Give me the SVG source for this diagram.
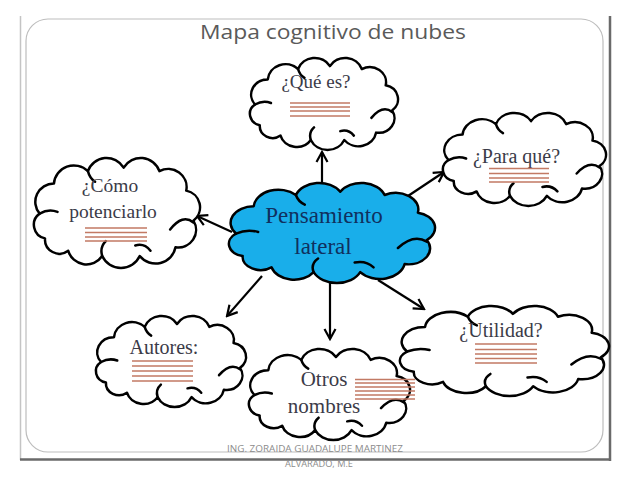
<svg xmlns="http://www.w3.org/2000/svg" xmlns:xlink="http://www.w3.org/1999/xlink" width="638" height="479" viewBox="0 0 638 479">
<style>
.cloud{fill:#ffffff;stroke:#000;stroke-width:2.5;stroke-linejoin:round}
.blue{fill:#19aeea}
.hook{fill:none;stroke:#000;stroke-width:2.5;stroke-linecap:round}
.lbl{font-family:"Liberation Serif",serif;fill:#3b3b48;text-anchor:middle}
.main{font-family:"Liberation Serif",serif;fill:#10305e;text-anchor:middle;font-size:23px}
.ul{fill:none;stroke:#c27a64;stroke-width:1.3}
.conn{fill:none;stroke:#000;stroke-width:2.2}
</style>
<defs>
<path id="cloudShape" vector-effect="non-scaling-stroke" d="M 14 62 A 20.7 20.7 0 0 1 30 28 A 22.3 22.3 0 0 1 68 14 A 22.1 22.1 0 0 1 108 10 A 22.1 22.1 0 0 1 148 14 A 20.5 20.5 0 0 1 178 36 A 19.2 19.2 0 0 1 186 70 A 19.8 19.8 0 0 1 166 100 A 22.7 22.7 0 0 1 126 110 A 23.1 23.1 0 0 1 84 110 A 21.2 21.2 0 0 1 46 104 A 16.2 16.2 0 0 1 20 90 A 15.7 15.7 0 0 1 14 62 Z"/>
<path id="cloudHooks" vector-effect="non-scaling-stroke" d="M 14 62 Q 24 56 34 60 M 68 14 Q 70 22 76 26 M 160 80 Q 174 62 186 72 M 84 110 Q 81 100 88 93 M 138 104 Q 131 95 121 98"/>
<marker id="arr" markerUnits="userSpaceOnUse" markerWidth="14" markerHeight="14" refX="0" refY="0" viewBox="-12 -7 14 14" orient="auto">
<path d="M -10 -5.5 L 0 0 L -10 5.5" fill="none" stroke="#000" stroke-width="2.2"/>
</marker>
</defs>
<rect width="638" height="479" fill="#ffffff"/>
<g id="frame">
<line x1="20.5" y1="16" x2="20.5" y2="460" stroke="#c4c4c4" stroke-width="1.5"/>
<line x1="610" y1="16" x2="610" y2="461" stroke="#6a6a6a" stroke-width="2.5"/>
<line x1="20" y1="459.5" x2="611" y2="459.5" stroke="#6a6a6a" stroke-width="2.5"/>
<rect x="26" y="19" width="577" height="433" rx="22" ry="22" fill="none" stroke="#bdbdbd" stroke-width="1.2"/>
</g>
<text id="title" x="333" y="39" font-family="'Open Sans','Noto Sans',sans-serif" font-size="20" fill="#5a5a5a" text-anchor="middle" textLength="266" lengthAdjust="spacingAndGlyphs">Mapa cognitivo de nubes</text>
<g id="connectors">
<line class="conn" x1="322" y1="185" x2="322" y2="152" marker-end="url(#arr)"/>
<line class="conn" x1="408" y1="196" x2="444" y2="172" marker-end="url(#arr)"/>
<line class="conn" x1="232" y1="232" x2="197" y2="216" marker-end="url(#arr)"/>
<line class="conn" x1="262" y1="276" x2="227" y2="316" marker-end="url(#arr)"/>
<line class="conn" x1="330" y1="283" x2="330" y2="339" marker-end="url(#arr)"/>
<line class="conn" x1="378" y1="280" x2="424" y2="309" marker-end="url(#arr)"/>
</g>
<g id="n-utilidad">
<g transform="translate(391.33 306.65) scale(1.1255 0.7235)"><use href="#cloudShape" class="cloud"/><use href="#cloudHooks" class="hook"/></g>
<text class="lbl" x="501" y="337" font-size="20">¿Utilidad?</text>
<path class="ul" d="M475 344H537M475 349.5H537M475 354H537M475 358.5H537M475 363H537"/>
</g>
<g id="n-otros">
<g transform="translate(242.32 349.66) scale(0.867 0.7315)"><use href="#cloudShape" class="cloud"/><use href="#cloudHooks" class="hook"/></g>
<text class="lbl" x="324" y="386" font-size="21">Otros</text>
<text class="lbl" x="324" y="413" font-size="21">nombres</text>
<path class="ul" d="M355 379.5H415M355 383H415M355 387H415M355 391H415M355 395H415M355 399H415"/>
</g>
<g id="n-quees">
<g transform="translate(243.86 58.67) scale(0.797 0.7395)"><use href="#cloudShape" class="cloud"/><use href="#cloudHooks" class="hook"/></g>
<text class="lbl" x="316" y="88" font-size="19">¿Qué es?</text>
<path class="ul" d="M290 103H350M290 107H350M290 111H350M290 116H350"/>
</g>
<g id="n-paraque">
<g transform="translate(436.24 113.67) scale(0.8778 0.7476)"><use href="#cloudShape" class="cloud"/><use href="#cloudHooks" class="hook"/></g>
<text class="lbl" x="516.5" y="163" font-size="20">¿Para qué?</text>
<path class="ul" d="M489 168.5H549M489 173.5H549M489 178H549M489 182H549"/>
</g>
<g id="n-como">
<g transform="translate(27.12 158.8) scale(0.8939 0.8842)"><use href="#cloudShape" class="cloud"/><use href="#cloudHooks" class="hook"/></g>
<text class="lbl" x="110" y="192" font-size="19.5">¿Cómo</text>
<text class="lbl" x="113" y="218" font-size="19.5">potenciarlo</text>
<path class="ul" d="M85 228H147M85 232.5H147M85 237H147M85 241H147"/>
</g>
<g id="n-autores">
<g transform="translate(89.78 316.66) scale(0.8078 0.7315)"><use href="#cloudShape" class="cloud"/><use href="#cloudHooks" class="hook"/></g>
<text class="lbl" x="164" y="354" font-size="20">Autores:</text>
<path class="ul" d="M132 361H193M132 366H193M132 371H193M132 376H193M132 381H193" stroke="#c46a4c" stroke-width="1.8"/>
</g>
<g id="n-pensamiento">
<g transform="translate(220.46 183.72) scale(1.1093 0.8039)"><use href="#cloudShape" class="cloud blue"/><use href="#cloudHooks" class="hook"/></g>
<text class="main" x="324" y="223">Pensamiento</text>
<text class="main" x="323" y="254">lateral</text>
</g>
<g id="footer" font-family="'Open Sans','Noto Sans',sans-serif" font-size="9.5" fill="#8c8c8c" text-anchor="middle">
<text x="315" y="452" textLength="176" lengthAdjust="spacingAndGlyphs">ING. ZORAIDA GUADALUPE MARTINEZ</text>
<text x="319" y="467" textLength="68" lengthAdjust="spacingAndGlyphs">ALVARADO, M.E</text>
</g>
</svg>
